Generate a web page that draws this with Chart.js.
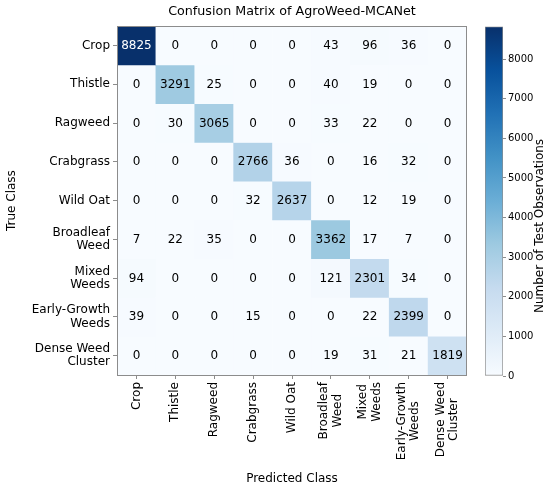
<!DOCTYPE html>
<html><head><meta charset="utf-8">
<script src="https://cdn.jsdelivr.net/npm/chart.js@4/dist/chart.umd.min.js"></script>
<style>html,body{margin:0;padding:0;background:#fff}#wrap{position:relative;width:550px;height:489px}canvas{position:absolute;left:0;top:0}</style>
</head><body><div id="wrap"><canvas id="cm" width="550" height="489"></canvas><canvas id="cb" width="550" height="489"></canvas></div>
<script>
const trueClasses = [["Crop"],["Thistle"],["Ragweed"],["Crabgrass"],["Wild Oat"],["Broadleaf","Weed"],["Mixed","Weeds"],["Early-Growth","Weeds"],["Dense Weed","Cluster"]];
const predClasses = [["Crop"],["Thistle"],["Ragweed"],["Crabgrass"],["Wild Oat"],["Broadleaf","Weed"],["Mixed","Weeds"],["Early-Growth","Weeds"],["Dense Weed","Cluster"]];
const rowCrop       = [8825, 0, 0, 0, 0, 43, 96, 36, 0];
const rowThistle    = [0, 3291, 25, 0, 0, 40, 19, 0, 0];
const rowRagweed    = [0, 30, 3065, 0, 0, 33, 22, 0, 0];
const rowCrabgrass  = [0, 0, 0, 2766, 36, 0, 16, 32, 0];
const rowWildOat    = [0, 0, 0, 32, 2637, 0, 12, 19, 0];
const rowBroadleaf  = [7, 22, 35, 0, 0, 3362, 17, 7, 0];
const rowMixed      = [94, 0, 0, 0, 0, 121, 2301, 34, 0];
const rowEarly      = [39, 0, 0, 15, 0, 0, 22, 2399, 0];
const rowDense      = [0, 0, 0, 0, 0, 19, 31, 21, 1819];
const matrixRows = [rowCrop,rowThistle,rowRagweed,rowCrabgrass,rowWildOat,rowBroadleaf,rowMixed,rowEarly,rowDense];
const colorbarTicks = [0,1000,2000,3000,4000,5000,6000,7000,8000];

const vmax = Math.max(...matrixRows.flat());
const blues = [[247,251,255],[222,235,247],[198,219,239],[158,202,225],[107,174,214],[66,146,198],[33,113,181],[8,81,156],[8,48,107]];
function bluesColor(t){
  t = Math.max(0, Math.min(1, t));
  const p = t*(blues.length-1); const i = Math.min(Math.floor(p), blues.length-2); const f = p-i;
  const c = blues[i].map((v,k)=>Math.round(v+(blues[i+1][k]-v)*f));
  return `rgb(${c[0]},${c[1]},${c[2]})`;
}
const FONT = "'DejaVu Sans', sans-serif";
const spine = '#8c8c8c';

const cellText = {
  id:'cellText',
  afterDatasetsDraw(chart){
    const ctx = chart.ctx; ctx.save();
    ctx.font = `12px ${FONT}`; ctx.textAlign='center'; ctx.textBaseline='middle';
    chart.data.datasets.forEach((ds,di)=>{
      chart.getDatasetMeta(di).data.forEach((el,j)=>{
        const v = matrixRows[di][j];
        ctx.fillStyle = v > vmax/2 ? '#ffffff' : '#000000';
        ctx.fillText(String(v), el.x, (el.y+el.base)/2 + 0.5);
      });
    });
    const a = chart.chartArea;
    ctx.strokeStyle = spine; ctx.lineWidth = 1;
    ctx.strokeRect(Math.round(a.left)+0.5, Math.round(a.top)+0.5, Math.round(a.right-a.left)-1, Math.round(a.bottom-a.top));
    ctx.restore();
  }
};

// matplotlib-style rotated multi-line labels: lines centred on each other, block centred on the tick
const centerRotatedLabels = {
  id:'centerRotatedLabels',
  beforeDraw(chart){
    const s = chart.scales.x;
    if (!s || typeof s.getLabelItems !== 'function') return;
    const items = s.getLabelItems(chart.chartArea);
    const ctx = chart.ctx;
    items.forEach(it=>{
      if (it._mplFixed || !Array.isArray(it.label) || it.label.length < 2) return;
      const f = it.font;
      ctx.save(); ctx.font = f.string;
      const maxW = Math.max(...it.label.map(l=>ctx.measureText(l).width));
      ctx.restore();
      const o = it.options;
      o.textAlign = 'center';
      o.translation = [o.translation[0] - (it.label.length-1)*f.lineHeight/2, o.translation[1] + maxW/2];
      it._mplFixed = true;
    });
  }
};

new Chart(document.getElementById('cm'), {
  type:'bar',
  data:{
    labels: predClasses,
    datasets: matrixRows.map((row,i)=>({
      label: trueClasses[i].join(' '),
      data: row.map(()=>[i, i+1]),
      backgroundColor: row.map(v=>bluesColor(v/vmax)),
      borderWidth:0,
      barPercentage:1, categoryPercentage:1, grouped:false
    }))
  },
  options:{
    responsive:false, animation:false,
    layout:{padding:{top:0.5,right:83,bottom:0,left:0}},
    plugins:{
      legend:{display:false}, tooltip:{enabled:false},
      title:{display:true, align:'center', fullSize:false, text:'Confusion Matrix of AgroWeed-MCANet', color:'#000', font:{family:FONT,size:12.7,weight:'normal'}, padding:{top:3.5,bottom:7}}
    },
    scales:{
      x:{
        type:'category', offset:true,
        grid:{display:true, offset:false, drawOnChartArea:false, drawTicks:true, tickLength:4, color:spine},
        border:{display:false},
        ticks:{color:'#000', font:{family:FONT,size:12,lineHeight:1.1}, minRotation:90, maxRotation:90, autoSkip:false, padding:3},
        title:{display:true, text:'Predicted Class', color:'#000', font:{family:FONT,size:12}, padding:{top:4,bottom:3}},
        afterFit(s){ s.height = 114; }
      },
      y:{
        type:'linear', min:0, max:9, reverse:true,
        afterBuildTicks(s){ s.ticks = trueClasses.map((c,i)=>({value:i+0.5})); },
        grid:{display:true, drawOnChartArea:false, drawTicks:true, tickLength:4, color:spine},
        border:{display:false},
        ticks:{color:'#000', font:{family:FONT,size:12,lineHeight:1.1}, padding:3, autoSkip:false, callback:(v)=>trueClasses[Math.floor(v)]},
        title:{display:true, text:'True Class', color:'#000', font:{family:FONT,size:12}, padding:{top:5,bottom:4}},
        afterFit(s){ s.width = 117; }
      }
    }
  },
  plugins:[cellText, centerRotatedLabels]
});

const cbTitle = {
  id:'cbTitle',
  afterDraw(chart){
    const ctx = chart.ctx; ctx.save();
    ctx.font = `12px ${FONT}`; ctx.fillStyle='#000'; ctx.textAlign='center'; ctx.textBaseline='middle';
    ctx.translate(540, 226); ctx.rotate(-Math.PI/2);
    ctx.fillText('Number of Test Observations', 0, 0);
    ctx.restore();
  }
};

new Chart(document.getElementById('cb'), {
  type:'bar',
  data:{ labels:[''], datasets:[{
    data:[vmax],
    backgroundColor(c){
      const ch = c.chart; const a = ch.chartArea; if(!a) return bluesColor(0.5);
      const y = ch.scales.y;
      const g = ch.ctx.createLinearGradient(0, y.getPixelForValue(0), 0, y.getPixelForValue(vmax));
      blues.forEach((b,i)=>g.addColorStop(i/(blues.length-1), `rgb(${b[0]},${b[1]},${b[2]})`));
      return g;
    },
    borderColor: spine, borderWidth:1, borderSkipped:false,
    barPercentage:1, categoryPercentage:1
  }]},
  options:{
    responsive:false, animation:false,
    layout:{padding:{top:26.5,left:485,bottom:113,right:0}},
    plugins:{legend:{display:false}, tooltip:{enabled:false}},
    scales:{
      x:{display:false},
      y:{
        position:'right', min:0, max:vmax,
        afterBuildTicks(s){ s.ticks = colorbarTicks.map(v=>({value:v})); },
        grid:{display:true, drawOnChartArea:false, drawTicks:true, tickLength:3, color:spine},
        border:{display:false},
        ticks:{color:'#000', font:{family:FONT,size:10}, padding:2, callback:(v)=>String(v)},
        afterFit(s){ s.width = 47; }
      }
    }
  },
  plugins:[cbTitle]
});
</script></body></html>
